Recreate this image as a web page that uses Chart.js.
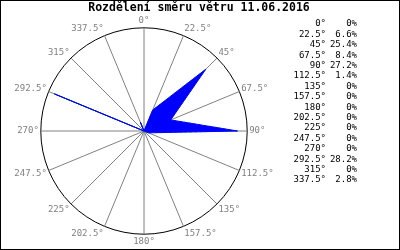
<!DOCTYPE html>
<html>
<head>
<meta charset="utf-8">
<script src="https://cdn.jsdelivr.net/npm/chart.js@4"></script>
<style>
  html, body { margin: 0; padding: 0; background: #fff; }
  #wrap { width: 400px; height: 250px; position: relative; }
</style>
</head>
<body>
<div id="wrap"><canvas id="windChart"></canvas></div>
<script>
const titleText = 'Rozdělení směru větru 11.06.2016';
const directions = ['0°', '22.5°', '45°', '67.5°', '90°', '112.5°', '135°', '157.5°',
    '180°', '202.5°', '225°', '247.5°', '270°', '292.5°', '315°', '337.5°'];
const shares = [0, 6.6, 25.4, 8.4, 27.2, 1.4, 0, 0, 0, 0, 0, 0, 0, 28.2, 0, 2.8];
const scaleMax = 30;

const mono = '"DejaVu Sans Mono", "Liberation Mono", monospace';
const labelPad = 2;

// title, right-hand table and frame
const extras = {
    id: 'extras',
    afterDraw(c) {
        const ctx = c.ctx;
        ctx.save();
        ctx.fillStyle = '#000';
        ctx.font = 'bold 11.5px ' + mono;
        ctx.textAlign = 'center';
        ctx.textBaseline = 'middle';
        ctx.fillText(titleText, 199, 8);

        ctx.font = '9px ' + mono;
        ctx.textAlign = 'right';
        for (let i = 0; i < directions.length; i++) {
            const y = 24 + i * 10.4;
            ctx.fillText(directions[i], 326, y);
            ctx.fillText(shares[i] + '%', 357, y);
        }

        ctx.strokeStyle = '#000';
        ctx.lineWidth = 1;
        ctx.strokeRect(0.5, 0.5, c.width - 1, c.height - 1);
        ctx.restore();
    }
};

// side labels sit more centred on their spoke than chart.js puts them
function nudgeLabels(scale) {
    const items = scale._pointLabelItems;
    if (!items) return;
    items.forEach((item, i) => {
        const a = scale.getIndexAngle(i) + Math.PI / 2;
        const pos = scale.getPointPosition(i, scale.drawingArea + labelPad);
        const h = item.bottom - item.top;
        const cy = pos.y + (h / 2) * Math.sin(a - Math.PI);
        item.y = cy - h / 2;
        item.top = item.y;
        item.bottom = item.y + h;
    });
}

const ctx = document.getElementById('windChart').getContext('2d');
const chart = new Chart(ctx, {
    type: 'radar',
    data: {
        labels: directions,
        datasets: [{
            data: shares,
            fill: true,
            backgroundColor: '#0000ff',
            borderColor: '#0000ff',
            borderWidth: 1,
            pointRadius: 0,
            tension: 0
        }, {
            // green speckled edge on top of the blue one
            data: shares,
            fill: false,
            borderColor: '#00ff00',
            borderWidth: 1,
            borderDash: [2, 3],
            pointRadius: 0,
            tension: 0
        }]
    },
    options: {
        responsive: true,
        maintainAspectRatio: false,
        animation: false,
        layout: {
            padding: { top: 15, bottom: 2, left: 0, right: 112 }
        },
        plugins: {
            legend: { display: false },
            title: { display: false },
            tooltip: { enabled: false }
        },
        scales: {
            r: {
                min: 0,
                max: scaleMax,
                afterFit: nudgeLabels,
                ticks: { display: false, stepSize: scaleMax },
                grid: { circular: true, color: '#000', lineWidth: 1 },
                angleLines: { color: '#808080', lineWidth: 1 },
                pointLabels: {
                    color: '#808080',
                    padding: labelPad,
                    font: { family: mono, size: 9 }
                }
            }
        }
    },
    plugins: [extras]
});
</script>
</body>
</html>
